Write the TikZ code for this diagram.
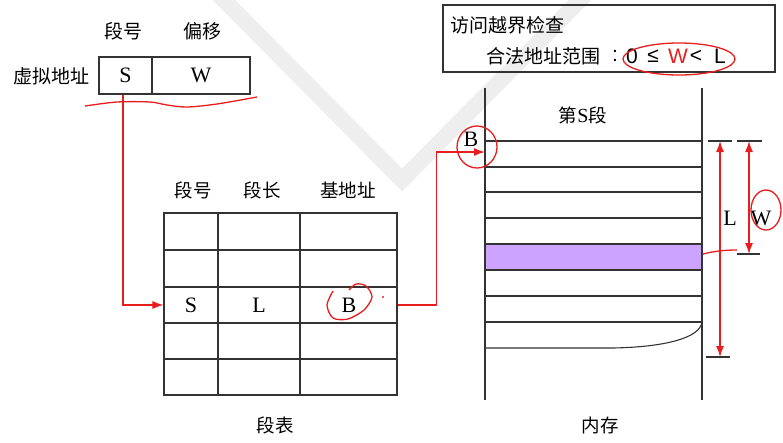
\documentclass[tikz,border=0pt]{standalone}
\usepackage{fontspec}
\setmainfont{Liberation Serif}
\newfontfamily\cjk{Noto Sans CJK SC}
\newfontfamily\sansf{Liberation Sans}
\usetikzlibrary{arrows.meta}
\definecolor{penred}{RGB}{232,30,30}
\definecolor{rowpurple}{RGB}{204,163,255}
\definecolor{wm}{RGB}{238,238,238}
\begin{document}
\begin{tikzpicture}[x=1pt,y=-1pt,
  ln/.style={draw=black!80, line width=1.1pt},
  rp/.style={draw=penred, line width=1.3pt},
  tip/.style={-{Latex[length=11pt,width=8pt]}},
  dtip/.style={{Latex[length=11pt,width=8pt]}-{Latex[length=11pt,width=8pt]}},
  lat/.style={font=\fontsize{22}{24}\selectfont, inner sep=0pt},
  zh/.style={font=\cjk\fontsize{18.5}{20}\selectfont, inner sep=0pt},
  zhb/.style={font=\cjk\fontsize{19}{21}\selectfont, inner sep=0pt},
  sn/.style={font=\sansf\fontsize{21}{23}\selectfont, inner sep=0pt},
  cell/.style={ln, inner sep=0pt, font=\fontsize{22}{24}\selectfont}]
\useasboundingbox (0,0) rectangle (783,442);
\fill[white] (0,0) rectangle (783,442);
% watermark
\draw[wm, line width=16pt, line join=miter] (214,-10) -- (402,180) -- (590,-10);

% virtual address
\node[zhb] (va) at (51,76) {虚拟地址};
\node[zhb] (h1) at (123,31) {段号};
\node[zhb] (h2) at (202,31) {偏移};
\node[cell, minimum width=53pt, minimum height=37pt] (vS) at (125.5,75.5) {S};
\node[cell, minimum width=98pt, minimum height=37pt] (vW) at (201,75.5) {W};
\draw[rp] plot[smooth] coordinates {(85,106) (117,102) (150,102) (167,105) (187,107) (217,104) (257,97)};

% segment table
\node[ln, draw, minimum width=233pt, minimum height=182pt, inner sep=0pt] (tbl) at (280.5,304) {};
\foreach \yy in {250,287,323,359} \draw[ln] (164,\yy) -- (397,\yy);
\foreach \xx in {218,300} \draw[ln] (\xx,213) -- (\xx,395);
\node[zh] (th1) at (193,190) {段号};
\node[zh] (th2) at (262,190) {段长};
\node[zh] (th3) at (348,190) {基地址};
\node[zh] (tcap) at (275,425) {段表};
\node[lat] (tS) at (191,305) {S};
\node[lat] (tL) at (259,305) {L};
\node[lat] (tB) at (349,305) {B};
\draw[rp] plot[smooth] coordinates {(333,291) (327,305) (333,318) (348,319) (364,310) (372,297) (366,286) (356,284) (349,290)};
\fill[penred] (383,297) circle (1.2pt);

% connectors
\draw[rp, tip] ([xshift=-2.5pt]vS.south) |- (tbl.west |- tS);
\coordinate (mB) at (485,152);
\draw[rp, tip] (tbl.east |- tB) -- ++(39,0) |- (mB);

% memory
\fill[rowpurple] (485,244) rectangle (702,270);
\draw[ln] (485,88) -- (485,400);
\draw[ln] (702,88) -- (702,400);
\foreach \yy in {141,167,192,218,244,270,296,322} \draw[ln] (485,\yy) -- (702,\yy);
\draw[ln] (485,348) -- (613,348) .. controls (665,347) and (700,338) .. (702,322);
\node[zh] (mt) at (583,115) {第{\rmfamily\fontsize{20}{22}\selectfont S}段};
\node[lat] (mBl) at (471,139) {B};
\draw[rp] (477,147) ellipse [x radius=20pt, y radius=21pt];
\node[zh] (mcap) at (600,425) {内存};

% dimensions
\draw[ln] (708,141) -- (732,141);
\draw[ln] (706,357) -- (730,357);
\draw[ln] (737,141) -- (762,141);
\draw[ln] (737,254) -- (760,254);
\draw[rp, dtip] (720,141) -- (720,357);
\draw[rp, dtip] (749,141) -- (749,254);
\node[lat] (dL) at (730,218) {L};
\node[lat] (dW) at (761,218) {W};
\draw[rp] (766,210) ellipse [x radius=15pt, y radius=20pt];
\draw[rp] (703,254) .. controls (715,251) and (725,250) .. (737,250);

% check box
\node[ln, draw, minimum width=332pt, minimum height=67pt, inner sep=0pt] (chk) at (609,38.5) {};
\node[zhb, anchor=west] (c1) at (450,25) {访问越界检查};
\node[zhb, anchor=west] (c2) at (486,56) {合法地址范围};
\node[sn] (zc) at (615,56) {:};
\node[sn] (z0) at (632,56) {0};
\node[sn] (zle) at (653,56) {≤};
\node[sn, text=penred] (zW) at (678,56) {W};
\node[sn] (zlt) at (696,56) {<};
\node[sn] (zL) at (720,56) {L};
\draw[rp] (679,59) ellipse [x radius=56pt, y radius=16pt];
\end{tikzpicture}
\end{document}
